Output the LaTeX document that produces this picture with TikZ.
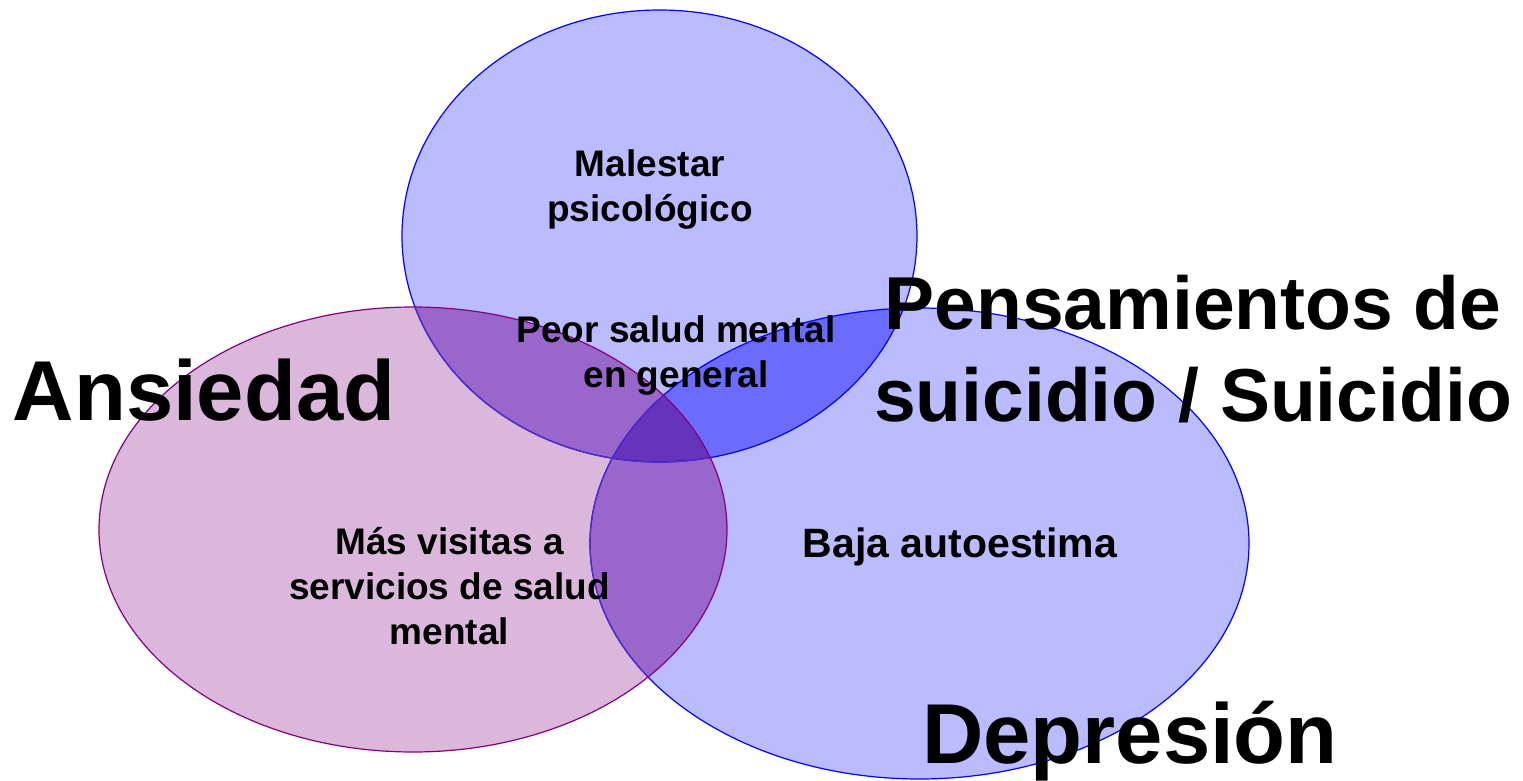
\documentclass[tikz,border=0pt]{standalone}
\usepackage{fontspec}
\setmainfont{Liberation Sans}
\usetikzlibrary{positioning}
\definecolor{lavanda}{HTML}{BBBBFF}
\definecolor{malva}{HTML}{DBB8DB}
\definecolor{azulmedio}{HTML}{6B6BFF}
\definecolor{violeta}{HTML}{9966CC}
\definecolor{violetaosc}{HTML}{6633BB}
\definecolor{bordeazul}{HTML}{0000FF}
\definecolor{bordemalva}{HTML}{800080}
\definecolor{bordemezcla}{HTML}{5A2DC0}
\tikzset{
	x=0.5pt, y=-0.5pt,
	every node/.style={align=center, inner sep=0pt},
	etiqueta/.style={font=\bfseries\fontsize{18.5}{22.5}\selectfont},
	titulo/.style={font=\bfseries\fontsize{42.5}{46}\selectfont}
}
% the three circles
\newcommand\elsup{(659.5,236) ellipse [x radius=257.5, y radius=226]}
\newcommand\elizq{(413,529.5) ellipse [x radius=314, y radius=222.5]}
\newcommand\elder{(919.5,543.5) ellipse [x radius=329.5, y radius=235.5]}
\begin{document}
\begin{tikzpicture}
	\useasboundingbox (0,0) rectangle (1523,781);
	% fills
	\fill[lavanda] \elsup;
	\fill[lavanda] \elder;
	\fill[malva] \elizq;
	\begin{scope}
		\clip \elsup;
		\fill[azulmedio] \elder;
		\fill[violeta] \elizq;
	\end{scope}
	\begin{scope}
		\clip \elder;
		\fill[violeta] \elizq;
	\end{scope}
	\begin{scope}
		\clip \elsup;
		\clip \elder;
		\fill[violetaosc] \elizq;
	\end{scope}
	% borders
	\draw[bordeazul, semithick] \elsup;
	\draw[bordeazul, semithick] \elder;
	\begin{scope}
		\clip \elizq;
		\draw[bordemezcla, semithick] \elsup;
		\draw[bordemezcla, semithick] \elder;
	\end{scope}
	\draw[bordemalva, semithick] \elizq;
	% texts
	\node[etiqueta] (malestar) at (650,190) {Malestar\\psicológico};
	\node[etiqueta] (peor) at (676,356) {Peor salud mental\\en general};
	\node[etiqueta] (visitas) at (449.5,586) {Más visitas a\\servicios de salud\\mental};
	\node[etiqueta, font=\bfseries\fontsize{20.5}{24}\selectfont, anchor=base] (baja) at (960,557) {Baja autoestima};
	\node[titulo, anchor=base] (ansiedad) at (204,420) {Ansiedad};
	\node[titulo, anchor=base] (depresion) at (1130,763) {Depresión};
	\node[titulo, font=\bfseries\fontsize{37.5}{46}\selectfont] (pensamientos) at (1193,349) {Pensamientos de\\suicidio / Suicidio};
\end{tikzpicture}
\end{document}
